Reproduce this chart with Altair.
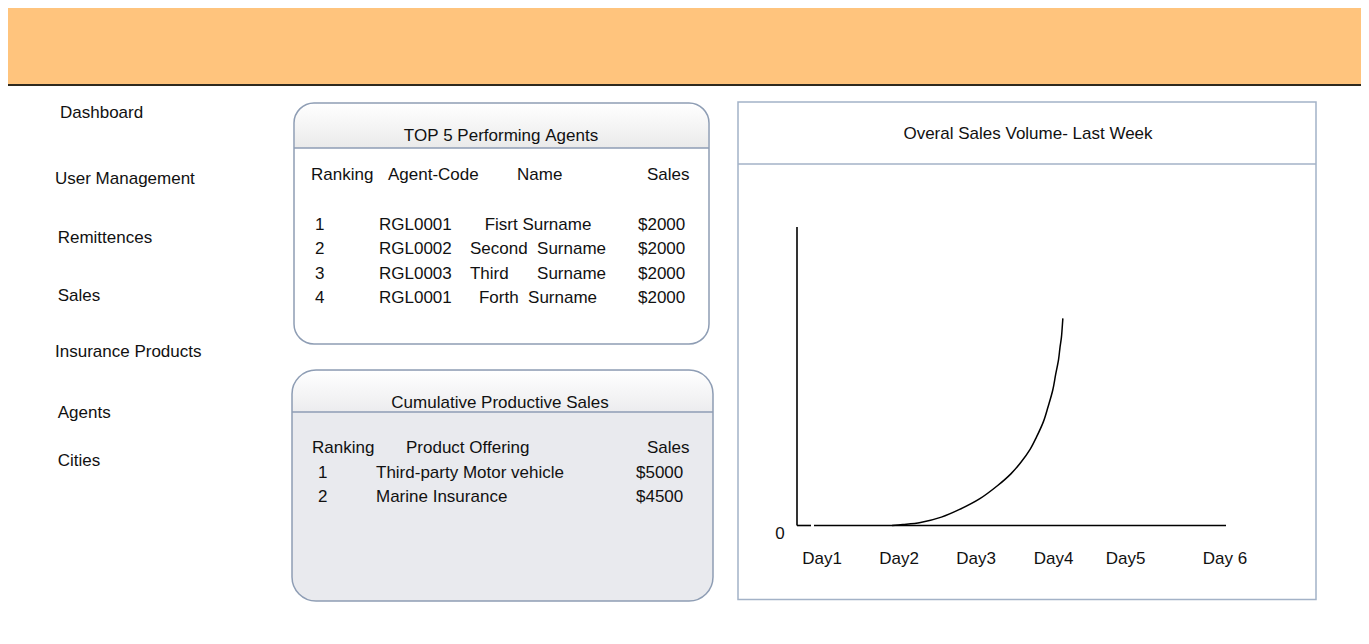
import altair as alt
import pandas as pd

# ---------------- data ----------------
nav_items = ["Dashboard", "User Management", "Remittences", "Sales",
             "Insurance Products", "Agents", "Cities"]

agent_title = "TOP 5 Performing Agents"
agent_headers = ["Ranking", "Agent-Code", "Name", "Sales"]
agent_rank = ["1", "2", "3", "4"]
agent_code = ["RGL0001", "RGL0002", "RGL0003", "RGL0001"]
agent_name = ["Fisrt Surname", "Second  Surname", "Third      Surname", "Forth  Surname"]
agent_sales = ["$2000", "$2000", "$2000", "$2000"]

product_title = "Cumulative Productive Sales"
product_headers = ["Ranking", "Product Offering", "Sales"]
product_rank = ["1", "2"]
product_name = ["Third-party Motor vehicle", "Marine Insurance"]
product_sales = ["$5000", "$4500"]

chart_title = "Overal Sales Volume- Last Week"
day_labels = ["Day1", "Day2", "Day3", "Day4", "Day5", "Day 6"]
y_labels = ["0"]
curve_day = [1.91, 2.05, 2.28, 2.55, 2.78, 3.05, 3.28, 3.45, 3.58, 3.70, 3.78, 3.87, 3.93, 3.99, 4.03, 4.07, 4.09, 4.11, 4.12, 4.13]
curve_sales = [0.0, 0.3, 1.0, 2.8, 5.3, 9.0, 13.4, 17.3, 21.2, 25.6, 29.6, 34.8, 39.8, 45.3, 50.6, 55.6, 59.6, 63.0, 66.0, 69.4]

# ---------------- layout ----------------
M = 8                      # page margin of the browser
W, H = 1353, 620
FONT = "Liberation Sans"
FS = 17
INK = "#111111"
BORDER = "#8e9db4"
BORDER2 = "#a3b2c7"


def p(v):
    return v - M


def nbsp(s):
    return s.replace(" ", "\u00a0")


def pos_scale(domain, rng):
    return alt.Scale(type="linear", domain=list(domain), range=[p(v) for v in rng],
                     nice=False, zero=False)


def texts(items, xs, ys, align="left", size=FS, color=INK):
    n = len(items)
    df = pd.DataFrame({"i": list(range(n)), "t": [nbsp(s) for s in items]})
    enc = {"text": alt.Text("t:N")}
    if isinstance(xs, (list, tuple)):
        enc["x"] = alt.X("i:Q", scale=pos_scale(range(n), xs), axis=None)
    else:
        enc["x"] = alt.value(p(xs))
    if isinstance(ys, (list, tuple)):
        enc["y"] = alt.Y("i:Q", scale=pos_scale(range(n), ys), axis=None)
    else:
        enc["y"] = alt.value(p(ys) + 1)
    return alt.Chart(df).mark_text(align=align, baseline="middle", font=FONT,
                                   fontSize=size, color=color).encode(**enc)


dummy = pd.DataFrame({"k": [0]})


def box(x1, x2, y1, y2, **mk):
    return alt.Chart(dummy).mark_rect(**mk).encode(
        x=alt.value(p(x1)), x2=alt.value(p(x2)),
        y=alt.value(p(y1)), y2=alt.value(p(y2)))


def hline(x1, x2, y, color, width):
    return alt.Chart(dummy).mark_rule(color=color, strokeWidth=width).encode(
        x=alt.value(p(x1)), x2=alt.value(p(x2)), y=alt.value(p(y)))


def vline(x, y1, y2, color, width):
    return alt.Chart(dummy).mark_rule(color=color, strokeWidth=width).encode(
        x=alt.value(p(x)), y=alt.value(p(y1)), y2=alt.value(p(y2)))


def grad(top, bottom):
    return alt.LinearGradient(gradient="linear",
                              stops=[alt.GradientStop(color=top, offset=0),
                                     alt.GradientStop(color=bottom, offset=1)],
                              x1=0, x2=0, y1=0, y2=1)


def panel(x1, x2, y1, y2, div, r, body, head, stroke):
    layers = [box(x1, x2, y1, y2, fill=body, cornerRadius=r)]
    hk = dict(fill=head)
    if r:
        hk.update(cornerRadiusTopLeft=r - 1, cornerRadiusTopRight=r - 1)
    layers.append(box(x1 + 0.75, x2 - 0.75, y1 + 0.75, div, **hk))
    layers.append(hline(x1, x2, div, stroke, 1.5))
    bk = dict(fillOpacity=0, stroke=stroke, strokeWidth=1.5)
    if r:
        bk["cornerRadius"] = r
    layers.append(box(x1, x2, y1, y2, **bk))
    return layers


layers = []

# header band
layers.append(box(M, M + W, 8, 84, fill="#ffc47d"))
layers.append(box(M, M + W, 84, 86, fill="#2f2a1f"))

# navigation
layers.append(texts(nav_items, [60, 55, 57.7, 57.7, 55, 57.7, 57.7],
                    [113.2, 179.3, 238, 295.5, 351.5, 413.2, 461]))

# TOP 5 panel
layers += panel(294, 709, 103, 344, 148, 20, "#ffffff", grad("#ffffff", "#eaeaea"), BORDER)
layers.append(texts([agent_title], 501, 134.7, align="center"))
layers.append(texts(agent_headers, [311, 388, 517, 647], 174.3))
agent_rows = [224.8, 249, 273.8, 298.2]
layers.append(texts(agent_rank, 315, agent_rows))
layers.append(texts(agent_code, 379, agent_rows))
layers.append(texts(agent_name, 538, agent_rows, align="center"))
layers.append(texts(agent_sales, 638, agent_rows))

# Cumulative panel
layers += panel(292, 713, 370, 601, 412, 24, "#e9eaee", grad("#ffffff", "#ececee"), BORDER)
layers.append(texts([product_title], 500, 401.7, align="center"))
layers.append(texts(product_headers, [312, 406, 647], 447))
product_rows = [473.2, 497.3]
layers.append(texts(product_rank, 318, product_rows))
layers.append(texts(product_name, 376, product_rows))
layers.append(texts(product_sales, 636, product_rows))

# Sales volume panel
layers += panel(738, 1316, 102, 599.5, 164, 0, "#ffffff", "#ffffff", BORDER2)
layers.append(texts([chart_title], 1028, 133, align="center"))

day_scale = pos_scale(range(1, 7), [822, 899, 976, 1053.5, 1125.5, 1225])
sales_scale = pos_scale([0, 100], [525.5, 227])

layers.append(vline(797, 227, 525.5, "black", 1.6))
layers.append(hline(797, 811, 525.5, "black", 1.6))
layers.append(hline(814, 1226, 525.5, "black", 1.6))

curve_df = pd.DataFrame({"day": curve_day, "sales": curve_sales})
layers.append(alt.Chart(curve_df).mark_line(color="black", strokeWidth=1.5,
                                            interpolate="catmull-rom").encode(
    x=alt.X("day:Q", scale=day_scale, axis=None),
    y=alt.Y("sales:Q", scale=sales_scale, axis=None)))

day_df = pd.DataFrame({"d": list(range(1, 7)), "t": [nbsp(s) for s in day_labels]})
layers.append(alt.Chart(day_df).mark_text(align="center", baseline="middle", font=FONT,
                                          fontSize=FS, color=INK).encode(
    x=alt.X("d:Q", scale=day_scale, axis=None),
    y=alt.value(p(558.5)), text="t:N"))

y_df = pd.DataFrame({"v": [0], "t": y_labels})
layers.append(alt.Chart(y_df).mark_text(align="center", baseline="middle", font=FONT,
                                        fontSize=FS, color=INK, dy=8.5).encode(
    x=alt.value(p(780)),
    y=alt.Y("v:Q", scale=sales_scale, axis=None), text="t:N"))

chart = alt.layer(*layers).resolve_scale(x="independent", y="independent").properties(
    width=W, height=H, padding=0,
    autosize=alt.AutoSizeParams(type="none"),
    background="white",
).configure_view(strokeWidth=0)

chart.save("out.html", embed_options={"renderer": "svg", "actions": False})
